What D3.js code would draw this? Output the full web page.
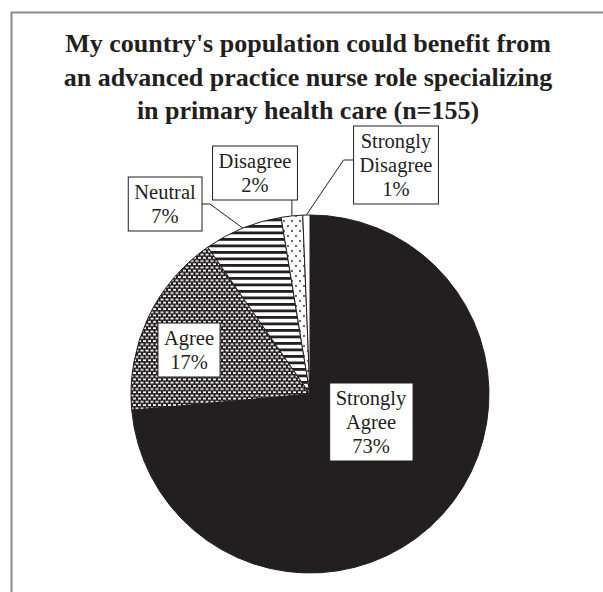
<!DOCTYPE html>
<html>
<head>
<meta charset="utf-8">
<script src="https://cdn.jsdelivr.net/npm/d3@7"></script>
<style>
  body { margin: 0; background: #fff; }
  svg { display: block; }
</style>
</head>
<body>
<div id="chart"></div>
<script>
// data (n = 155 respondents)
var categories = ["Strongly Agree", "Agree", "Neutral", "Disagree", "Strongly Disagree"];
var counts = [114, 26, 11, 3, 1];
var percentLabels = ["73%", "17%", "7%", "2%", "1%"];
var titleLines = [
    "My country's population could benefit from",
    "an advanced practice nurse role specializing",
    "in primary health care (n=155)"
];

// layout
var width = 603, height = 592;
var cx = 310, cy = 394, radius = 179;
var ink = "#231f20";

// label box centers relative to pie center, and leader style
var labelLayout = [
    { dx: 61, dy: 28, leader: null },
    { dx: -121, dy: -44, leader: null },
    { dx: -145, dy: -190, leader: "right" },
    { dx: -55, dy: -221, leader: "bottom" },
    { dx: 86, dy: -229, leader: "left" }
];

var svg = d3.select("#chart").append("svg")
    .attr("width", width)
    .attr("height", height);

// patterns
var defs = svg.append("defs");

var pAgree = defs.append("pattern")
    .attr("id", "p-agree")
    .attr("patternUnits", "userSpaceOnUse")
    .attr("width", 5).attr("height", 6.4);
pAgree.append("rect").attr("width", 5).attr("height", 6.4).attr("fill", ink);
pAgree.append("rect").attr("x", 0.5).attr("y", 0.6).attr("width", 3).attr("height", 1.7).attr("fill", "#fff");
pAgree.append("rect").attr("x", 3).attr("y", 3.8).attr("width", 3).attr("height", 1.7).attr("fill", "#fff");
pAgree.append("rect").attr("x", -2).attr("y", 3.8).attr("width", 3).attr("height", 1.7).attr("fill", "#fff");

var pNeutral = defs.append("pattern")
    .attr("id", "p-neutral")
    .attr("patternUnits", "userSpaceOnUse")
    .attr("width", 8).attr("height", 6.5);
pNeutral.append("rect").attr("width", 8).attr("height", 6.5).attr("fill", "#fff");
pNeutral.append("rect").attr("y", 0).attr("width", 8).attr("height", 2.8).attr("fill", ink);

var pDis = defs.append("pattern")
    .attr("id", "p-disagree")
    .attr("patternUnits", "userSpaceOnUse")
    .attr("width", 8).attr("height", 10);
pDis.append("rect").attr("width", 8).attr("height", 10).attr("fill", "#fff");
pDis.append("circle").attr("cx", 2).attr("cy", 2).attr("r", 0.9).attr("fill", ink);
pDis.append("circle").attr("cx", 6).attr("cy", 7).attr("r", 0.9).attr("fill", ink);

var fills = [ink, "url(#p-agree)", "url(#p-neutral)", "url(#p-disagree)", "#fff"];

// frame (chart area is cropped on the right and bottom)
svg.append("path")
    .attr("d", "M11.5," + height + "V12.5H" + width)
    .attr("fill", "none")
    .attr("stroke", "#8c8c8c")
    .attr("stroke-width", 2);

// title
svg.append("text")
    .attr("x", 308)
    .attr("y", 52)
    .attr("text-anchor", "middle")
    .style("font-family", "'Liberation Serif'")
    .style("font-weight", "bold")
    .style("font-size", "26px")
    .style("fill", ink)
    .selectAll("tspan")
    .data(titleLines)
    .enter().append("tspan")
    .attr("x", 308)
    .attr("dy", function(d, i) { return i === 0 ? 0 : 33.5; })
    .text(function(d) { return d; });

var pie = d3.pie().sort(null).value(function(d) { return d; });
var arcs = pie(counts);
var arc = d3.arc().innerRadius(0).outerRadius(radius);

var g = svg.append("g").attr("transform", "translate(" + cx + "," + cy + ")");

g.selectAll("path.slice")
    .data(arcs)
    .enter().append("path")
    .attr("class", "slice")
    .attr("d", arc)
    .attr("fill", function(d, i) { return fills[i]; })
    .attr("stroke", ink)
    .attr("stroke-width", 1);

// labels
var lineH = 24, fontSize = 20.5;
var labels = g.selectAll("g.label")
    .data(arcs)
    .enter().append("g")
    .attr("class", "label");

labels.each(function(d, i) {
    var lay = labelLayout[i];
    var words = categories[i].split(" ");
    var lines = (words.length > 1 ? words : [categories[i]]).concat([percentLabels[i]]);
    var el = d3.select(this);

    var txt = el.append("text")
        .attr("text-anchor", "middle")
        .style("font-family", "'Liberation Serif'")
        .style("font-size", fontSize + "px")
        .style("fill", ink);
    txt.selectAll("tspan")
        .data(lines)
        .enter().append("tspan")
        .attr("x", lay.dx)
        .attr("y", function(t, k) { return lay.dy + (k - (lines.length - 1) / 2) * lineH + 7; })
        .text(function(t) { return t; });

    var bb = txt.node().getBBox();
    var padX = 6, padY = 3;
    var bx = bb.x - padX, by = lay.dy - lines.length * lineH / 2 - padY;
    var bw = bb.width + 2 * padX, bh = lines.length * lineH + 2 * padY;

    el.insert("rect", "text")
        .attr("x", bx).attr("y", by)
        .attr("width", bw).attr("height", bh)
        .attr("fill", "#fff")
        .attr("stroke", ink)
        .attr("stroke-width", 1);

    if (lay.leader) {
        var mid = (d.startAngle + d.endAngle) / 2;
        var px = radius * Math.sin(mid), py = -radius * Math.cos(mid);
        var pts;
        if (lay.leader === "right") {
            var y0 = lay.dy;
            pts = [[bx + bw, y0], [bx + bw + 8, y0], [px, py]];
        } else if (lay.leader === "left") {
            var y1 = lay.dy - 5;
            pts = [[bx, y1], [bx - 10, y1], [px, py]];
        } else {
            pts = [[px, by + bh], [px, py]];
        }
        el.append("path")
            .attr("d", d3.line()(pts))
            .attr("fill", "none")
            .attr("stroke", ink)
            .attr("stroke-width", 1);
    }
});
</script>
</body>
</html>
